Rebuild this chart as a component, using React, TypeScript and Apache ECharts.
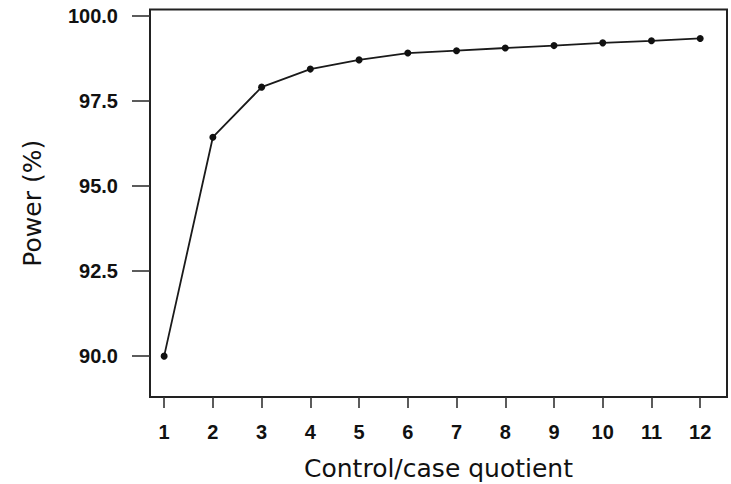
import React, { useEffect, useRef } from "react";
import * as echarts from "echarts";

const quotients = [1, 2, 3, 4, 5, 6, 7, 8, 9, 10, 11, 12];
const power = [90.0, 96.43, 97.9, 98.43, 98.7, 98.9, 98.97, 99.05, 99.12, 99.2, 99.26, 99.33];
const yTicks = [90, 92.5, 95, 97.5, 100];
const xTitle = "Control/case quotient";
const yTitle = "Power (%)";

export default function App() {
  const ref = useRef<HTMLDivElement>(null);
  useEffect(() => {
    if (!ref.current) return;
    const chart = echarts.init(ref.current, null, { renderer: "svg" });
    const titleFont = "DejaVu Sans";
    const tickFont = "Liberation Sans";
    const ink = "#111111";
    chart.setOption({
      animation: false,
      backgroundColor: "#ffffff",
      grid: {
        left: 150,
        right: 4,
        top: 9.5,
        bottom: 87,
        containLabel: false,
        outerBoundsMode: "none",
        show: true,
        borderColor: "#222",
        borderWidth: 2,
        backgroundColor: "transparent",
      },
      xAxis: {
        type: "value",
        min: 0.71,
        max: 12.55,
        name: xTitle,
        nameLocation: "middle",
        nameGap: 59,
        nameTextStyle: { fontFamily: titleFont, fontSize: 25, color: ink },
        axisLine: { show: false },
        splitLine: { show: false },
        axisTick: {
          show: true,
          inside: false,
          length: 11,
          customValues: quotients,
          lineStyle: { color: "#333", width: 1.6 },
        },
        axisLabel: {
          customValues: quotients,
          margin: 25,
          fontFamily: tickFont,
          fontWeight: "bold",
          fontSize: 20,
          color: ink,
          formatter: (v: number) => String(v),
        },
      },
      yAxis: {
        type: "value",
        min: 88.8,
        max: 100.18,
        name: yTitle,
        nameLocation: "middle",
        nameGap: 105,
        nameRotate: 90,
        nameTextStyle: { fontFamily: titleFont, fontSize: 25, color: ink },
        axisLine: { show: false },
        splitLine: { show: false },
        axisTick: {
          show: true,
          inside: false,
          length: 18,
          customValues: yTicks,
          lineStyle: { color: "#333", width: 1.6 },
        },
        axisLabel: {
          customValues: yTicks,
          margin: 32,
          fontFamily: tickFont,
          fontWeight: "bold",
          fontSize: 20,
          color: ink,
          formatter: (v: number) => v.toFixed(1),
        },
      },
      series: [
        {
          type: "line",
          data: quotients.map((q, i) => [q, power[i]]),
          symbol: "circle",
          symbolSize: 7,
          lineStyle: { color: "#1a1a1a", width: 1.8 },
          itemStyle: { color: "#111" },
        },
      ],
    });
    return () => chart.dispose();
  }, []);
  return (
    <div
      ref={ref}
      style={{ position: "fixed", left: 0, top: 0, width: 731, height: 484, background: "#fff" }}
    />
  );
}
